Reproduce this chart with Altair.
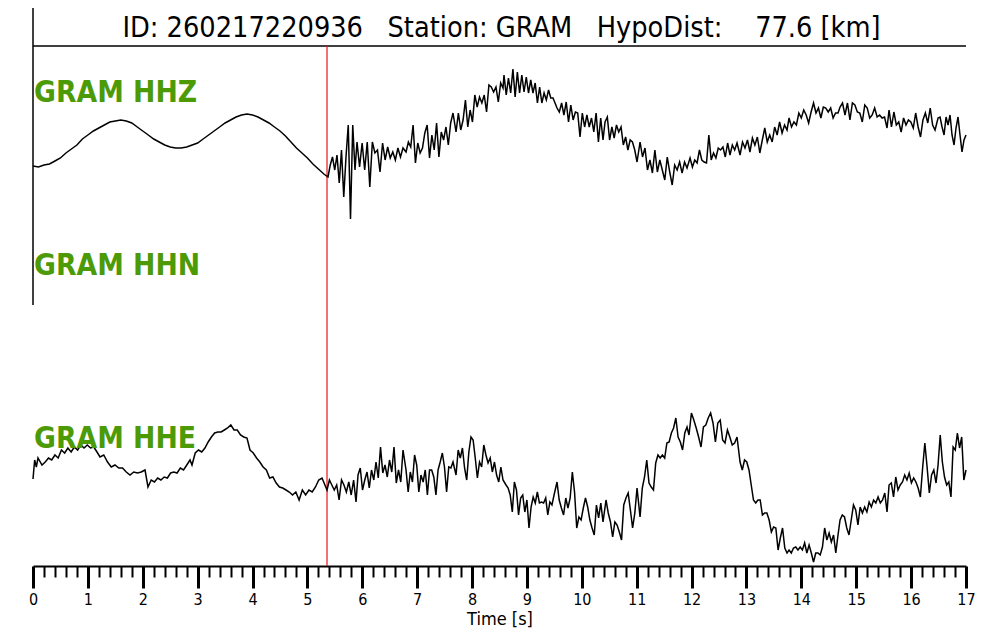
import altair as alt
import numpy as np
import pandas as pd

# ---------------- text ----------------
TITLE = "ID: 260217220936   Station: GRAM   HypoDist:    77.6 [km]"
CHANNELS = ["GRAM HHZ", "GRAM HHN", "GRAM HHE"]
CHANNEL_LABEL_LEVEL = [464, 291, 118]      # label baselines (vertical units)
TRACE_BASELINE = {"GRAM HHZ": 421, "GRAM HHE": 86}
X_TITLE = "Time [s]"

# ---------------- axis ----------------
T_MAX = 17
TICK_VALUES = [round(i * 0.2, 1) for i in range(86)]
P_PICK = 5.357          # red pick line (s)
Y_TOP = 558             # vertical domain
FRAME_TOP = 520         # top frame line level
LEFT_LINE_BOTTOM = 261  # lower end of the left frame line

# ---------------- HHZ trace: segments (t_start, t_end) and amplitudes ----------------
HHZ_SPANS = [(0.0, 5.3), (5.375, 5.867), (5.904, 6.742), (6.797, 7.653), (7.708, 8.564),
             (8.582, 9.475), (9.548, 10.386), (10.423, 11.006), (11.061, 11.917),
             (11.972, 12.828), (12.883, 13.739), (13.776, 14.668), (14.705, 15.561),
             (15.598, 16.436), (16.491, 17.0)]
HHZ_1 = [-21, -22, -20, -19, -16, -13, -8, -4, 0, 6, 10, 14, 17, 20, 23, 24, 25, 24, 22, 18,
         14, 10, 6, 3, 0, -2, -3, -3, -2, 0, 2, 6, 10, 14, 18, 22, 25, 28, 30, 31,
         30, 28, 25, 22, 18, 14, 9, 3, -3, -8, -13, -19, -24, -29]
HHZ_2 = [-32, -20, -12, -25, -10, -38, -5, -52, -12, 20, -74, 20, -25]
HHZ_3 = [3, -22, 2, -25, 3, -42, 3, -8, -5, -27, 2, -15, -2, -13, -7, -15, -3, -12, -3]
HHZ_4 = [-7, 3, -2, 20, -18, 2, -8, -3, 12, 20, -13, 10, -5, 22, -12, 13, 5, 18, 0, 22, 32]
HHZ_5 = [13, 32, 15, 25, 45, 18, 35, 23, 50, 38, 48, 42, 50, 33, 60, 58, 53, 58, 43, 62, 57]
HHZ_6 = [70, 50, 67, 52, 76, 48, 73, 52, 70, 53, 68, 52, 65, 52, 62, 42, 58, 42, 52, 45, 55, 47, 47]
HHZ_7 = [37, 33, 42, 30, 43, 23, 40, 25, 33, 32, 8, 32, 18, 30, 18, 27, 13, 32, 3, 27, 5]
HHZ_8 = [23, 28, 5, 18, 7, 20, 13, 18, 0, 8, -5, 5, 3, -5, -17]
HHZ_9 = [3, -12, -3, -25, -15, -28, -5, -27, -15, -25, -35, -12, -27, -40, -20, -25, -17, -28, -17, -23]
HHZ_10 = [-13, -22, -15, -18, -5, -15, -17, -18, 10, -15, -8, -13, -3, -5, -2, -12, 2, -10, 0, -5, 2]
HHZ_11 = [-10, 3, -3, 5, -7, 7, 0, 8, -8, 5, 17, 3, 10, 3, 18, 10, 23, 12, 20, 15]
HHZ_12 = [27, 18, 23, 20, 32, 27, 35, 30, 22, 33, 42, 32, 37, 27, 38, 37, 33, 37, 27, 32, 32]
HHZ_13 = [38, 42, 30, 42, 25, 42, 40, 33, 32, 23, 40, 37, 27, 30, 37, 28, 30, 27, 28, 17]
HHZ_14 = [35, 18, 33, 20, 23, 13, 27, 20, 25, 23, 17, 32, 18, 8, 25, 32, 22, 37, 20, 15]
HHZ_15 = [27, 28, 18, 10, 28, 20, 30, 10, 0, 17, 28, 10, -7, 5, 10]
HHZ_VALUES = [HHZ_1, HHZ_2, HHZ_3, HHZ_4, HHZ_5, HHZ_6, HHZ_7, HHZ_8, HHZ_9, HHZ_10,
              HHZ_11, HHZ_12, HHZ_13, HHZ_14, HHZ_15]

# ---------------- HHE trace ----------------
HHE_SPANS = [(0.0, 0.091), (0.164, 1.166), (1.221, 2.041), (2.095, 2.861), (2.897, 3.899),
             (3.954, 5.266), (5.357, 5.886), (5.922, 6.742), (6.797, 7.653), (7.708, 8.564),
             (8.619, 9.494), (9.548, 10.386), (10.441, 11.006), (11.061, 11.917),
             (11.953, 12.828), (12.883, 13.739), (13.776, 14.668), (14.705, 15.561),
             (15.598, 16.454), (16.491, 17.0)]
HHE_1 = [1, 20, 13, 22]
HHE_2 = [15, 18, 22, 20, 25, 22, 30, 27, 32, 28, 33, 30, 35, 32, 35, 32, 33, 28]
HHE_3 = [23, 25, 18, 13, 15, 12, 12, 8, 5, 8, 7, 8, 10]
HHE_4 = [-7, 0, -2, 2, 0, 3, 2, 7, 8, 7, 12, 10, 15, 20]
HHE_5 = [15, 27, 30, 28, 32, 38, 43, 47, 48, 48, 50, 52, 55, 50, 50, 45, 43, 42]
HHE_6 = [30, 27, 22, 18, 13, 10, 2, 3, -3, -7, -8, -10, -12, -15, -12, -20, -10, -15, -10, -12, -7, 0, 2]
HHE_7 = [-10, 0, -5, -10, -5, -20, 0, -5, -12, -2, -15, 0, -22]
HHE_8 = [5, 12, -10, 0, 8, -8, 10, 0, 18, 2, 33, 7, 15, 3, 20, 8, 33, -3, 10, -2, 30]
HHE_9 = [10, -12, 8, -2, 25, 15, -12, 5, -2, 10, -15, 10, 10, 3, -15, 10, 18, 27, 13, -12, 13, 12, 18]
HHE_10 = [5, 30, 22, 32, 12, 0, 28, 43, 40, 22, 2, 18, 13, 35, 25, 17, 22, 8, 18, 5, -2, 13, 0]
HHE_11 = [-5, -8, -15, -32, -2, -10, -35, -18, -15, -32, -20, -48, -27, -17, -23, -12, -23, -22, -23, -18, -35, -22, -25, -15]
HHE_12 = [-2, -20, -28, -35, -18, -28, -18, 8, -12, -48, -37, -40, -28, -18, -27, -40, -48, -55, -25, -38, -23, -42]
HHE_13 = [-20, -33, -42, -57, -42, -45, -52, -60, -25, -18, -13, -30, -48, -33, -8]
HHE_14 = [-37, -8, 3, 20, -3, -7, -10, 17, 25, 22, 25, 22, 37, 38, 47, 52, 62, 43, 38, 30, 47, 53]
HHE_15 = [45, 67, 60, 52, 43, 33, 53, 55, 62, 67, 57, 38, 57, 60, 40, 37, 50, 43, 35, 37, 43]
HHE_16 = [18, 10, 20, 18, 10, -5, -20, -23, -20, -20, -35, -33, -33, -40, -52, -47, -48, -70, -58, -48, -68, -73]
HHE_17 = [-70, -73, -68, -67, -70, -67, -70, -63, -73, -65, -73, -82, -73, -73, -75, -67, -48, -60, -53, -62, -55, -73, -55]
HHE_18 = [-40, -35, -37, -48, -55, -40, -25, -30, -45, -27, -33, -27, -32, -22, -27, -20, -23, -17, -23, -20, -13, -32]
HHE_19 = [-5, -3, -17, 3, -10, -5, -2, 5, 0, 7, -3, 2, -2, -8, -17, 12, 37, 13, -13, 5, 10, -3]
HHE_20 = [15, 45, 18, 3, -5, -2, -17, 33, 30, 47, 32, 43, 0, 10]
HHE_VALUES = [HHE_1, HHE_2, HHE_3, HHE_4, HHE_5, HHE_6, HHE_7, HHE_8, HHE_9, HHE_10,
              HHE_11, HHE_12, HHE_13, HHE_14, HHE_15, HHE_16, HHE_17, HHE_18, HHE_19, HHE_20]


def trace_frame(name, spans, values):
    rows = []
    for (t0, t1), vals in zip(spans, values):
        ts = np.linspace(t0, t1, len(vals))
        for t, a in zip(ts, vals):
            rows.append({"channel": name, "t": float(t), "v": TRACE_BASELINE[name] + a})
    df = pd.DataFrame(rows)
    df["idx"] = np.arange(len(df))
    return df


traces = pd.concat([trace_frame("GRAM HHZ", HHZ_SPANS, HHZ_VALUES),
                    trace_frame("GRAM HHE", HHE_SPANS, HHE_VALUES)], ignore_index=True)

FONT = "DejaVu Sans Condensed, DejaVu Sans"
is_major = "abs(datum.value - round(datum.value)) < 0.001"

x_axis = alt.Axis(
    values=TICK_VALUES,
    title=X_TITLE,
    titleFont=FONT, titleFontSize=18, titleFontWeight="normal", titleColor="black",
    titlePadding=3,
    labelFont=FONT, labelFontSize=16, labelColor="black",
    labelExpr=f"{is_major} ? format(round(datum.value), 'd') : ''",
    labelOverlap=False, labelFlush=False, labelBound=False,
    labelPadding=3,
    tickSize={"condition": {"test": is_major, "value": 22}, "value": 11},
    tickWidth={"condition": {"test": is_major, "value": 3}, "value": 2},
    tickColor="black", domainColor="black", domainWidth=2, grid=False,
)
X_SCALE = alt.Scale(domain=[0, T_MAX], nice=False, zero=False)
Y_SCALE = alt.Scale(domain=[0, Y_TOP], nice=False, zero=False)

lines = alt.Chart(traces).mark_line(color="black", strokeWidth=1.5, clip=False).encode(
    x=alt.X("t:Q", scale=X_SCALE, axis=x_axis),
    y=alt.Y("v:Q", scale=Y_SCALE, axis=None),
    detail="channel:N",
    order="idx:Q",
)

frame_h = pd.DataFrame({"t0": [0], "t1": [T_MAX], "v": [FRAME_TOP]})
top_line = alt.Chart(frame_h).mark_rule(color="black", strokeWidth=1.5).encode(
    x=alt.X("t0:Q", scale=X_SCALE, axis=x_axis), x2="t1:Q",
    y=alt.Y("v:Q", scale=Y_SCALE, axis=None),
)
frame_v = pd.DataFrame({"t": [0], "v0": [LEFT_LINE_BOTTOM], "v1": [Y_TOP]})
left_line = alt.Chart(frame_v).mark_rule(color="black", strokeWidth=1.5).encode(
    x=alt.X("t:Q", scale=X_SCALE, axis=x_axis),
    y=alt.Y("v0:Q", scale=Y_SCALE, axis=None), y2="v1:Q",
)
pick = pd.DataFrame({"t": [P_PICK], "v0": [0], "v1": [FRAME_TOP]})
pick_line = alt.Chart(pick).mark_rule(color="#e8141c", strokeWidth=1.2).encode(
    x=alt.X("t:Q", scale=X_SCALE, axis=x_axis),
    y=alt.Y("v0:Q", scale=Y_SCALE, axis=None), y2="v1:Q",
)

labels_df = pd.DataFrame({"t": [0] * 3, "v": CHANNEL_LABEL_LEVEL, "text": CHANNELS})
labels = alt.Chart(labels_df).mark_text(
    align="left", baseline="alphabetic", font=FONT, fontSize=29.7, fontWeight="bold",
    color="#4c9a06", dx=1,
).encode(
    x=alt.X("t:Q", scale=X_SCALE, axis=x_axis),
    y=alt.Y("v:Q", scale=Y_SCALE, axis=None),
    text="text:N",
)

title_df = pd.DataFrame({"t": [T_MAX / 2], "v": [529], "text": [TITLE.replace(" ", "\u00a0")]})
title = alt.Chart(title_df).mark_text(
    align="center", baseline="alphabetic", font=FONT, fontSize=28.6, color="black", dx=2,
).encode(
    x=alt.X("t:Q", scale=X_SCALE, axis=x_axis),
    y=alt.Y("v:Q", scale=Y_SCALE, axis=None),
    text="text:N",
)

chart = alt.layer(top_line, left_line, pick_line, lines, labels, title).properties(
    width=933, height=558,
    autosize=alt.AutoSizeParams(type="none"),
    padding={"left": 25, "top": 0, "right": 26, "bottom": 66},
    background="white",
).configure_view(strokeWidth=0)

chart.save("out.html", embed_options={"renderer": "svg", "actions": False})
